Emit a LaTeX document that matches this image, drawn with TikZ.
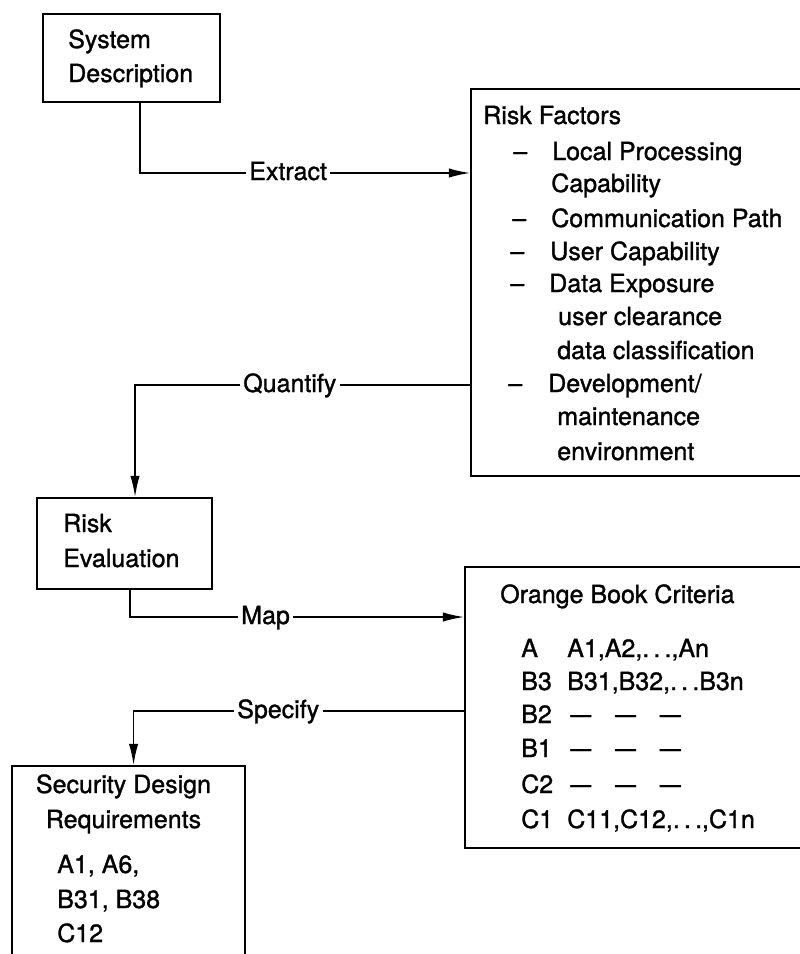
\documentclass[tikz,border=0pt]{standalone}
\usepackage{fontspec}
\setmainfont{TeX Gyre Heros}
\newfontfamily\scanfont{TeX Gyre Heros}[FakeBold=1.2]
\usetikzlibrary{arrows.meta,fit}
\newcommand{\longdash}{\scalebox{1.5}[1]{\textendash}}

\begin{document}
\begin{tikzpicture}[x=0.75pt,y=0.75pt,yscale=-1,xscale=1,
    box/.style={draw, line width=1.2pt, inner sep=0pt},
    txt/.style={anchor=base west, inner sep=0pt, font=\scanfont\fontsize{18.75}{22}\selectfont},
    verb/.style={anchor=west, inner xsep=2.25pt, inner ysep=0pt, text height=13.5pt, text depth=3pt, font=\scanfont\fontsize{18.75}{22}\selectfont},
    link/.style={line width=1.2pt},
    feed/.style={line width=1.2pt, -{Latex[length=16pt,width=7pt]}}]
        \useasboundingbox (0,0) rectangle (800,954);
        
        %Shape: Rectangle [System Description]
        \node[box, fit={(43,14) (220,102)}] (sysdesc) {};
        %Shape: Rectangle [Risk Factors]
        \node[box, fit={(471,89) (830,476)}] (riskfac) {};
        %Shape: Rectangle [Risk Evaluation]
        \node[box, fit={(37,498) (212,589)}] (riskeval) {};
        %Shape: Rectangle [Orange Book Criteria]
        \node[box, fit={(465,567) (830,848)}] (orange) {};
        %Shape: Rectangle [Security Design Requirements]
        \node[box, fit={(12,766) (245,980)}] (secreq) {};
        
        % Text Node
        \node[txt] (sys1) at (68,48) {System};
        % Text Node
        \node[txt] (sys2) at (68,82) {Description};
        
        % Text Node
        \node[txt] (rftitle) at (483,124) {Risk Factors};
        % Text Node
        \node[txt] (rfd1) at (513,160) {\textendash};
        \node[txt] (rf1) at (552,160) {Local Processing};
        % Text Node
        \node[txt] (rf1b) at (551,192) {Capability};
        % Text Node
        \node[txt] (rfd2) at (512,227) {\textendash};
        \node[txt] (rf2) at (551,227) {Communication Path};
        % Text Node
        \node[txt] (rfd3) at (510,260) {\textendash};
        \node[txt] (rf3) at (550,260) {User Capability};
        % Text Node
        \node[txt] (rfd4) at (510,292) {\textendash};
        \node[txt] (rf4) at (549,292) {Data Exposure};
        % Text Node
        \node[txt] (rf4b) at (558,325) {user clearance};
        % Text Node
        \node[txt] (rf4c) at (557,359) {data classification};
        % Text Node
        \node[txt] (rfd5) at (508,392) {\textendash};
        \node[txt] (rf5) at (548,392) {Development/};
        % Text Node
        \node[txt] (rf5b) at (557,425) {maintenance};
        % Text Node
        \node[txt] (rf5c) at (557,460) {environment};
        
        % Text Node
        \node[txt] (eval1) at (63,532) {Risk};
        % Text Node
        \node[txt] (eval2) at (63,567) {Evaluation};
        
        % Text Node
        \node[txt] (obtitle) at (500,603) {Orange Book Criteria};
        % Text Node
        \node[txt] (obA) at (521,657) {A};
        \node[txt] (obAx) at (567,657) {A1,A2,.\,.\,.,An};
        % Text Node
        \node[txt] (obBiii) at (521,690) {B3};
        \node[txt] (obBiiix) at (567,690) {B31,B32,.\,.\,.B3n};
        % Text Node
        \node[txt] (obBii) at (521,723) {B2};
        \node[txt] (obBiix) at (570,723) {\longdash\hspace{18pt}\longdash\hspace{18pt}\longdash};
        % Text Node
        \node[txt] (obBi) at (521,757) {B1};
        \node[txt] (obBix) at (570,757) {\longdash\hspace{18pt}\longdash\hspace{18pt}\longdash};
        % Text Node
        \node[txt] (obCii) at (521,793) {C2};
        \node[txt] (obCiix) at (570,793) {\longdash\hspace{18pt}\longdash\hspace{18pt}\longdash};
        % Text Node
        \node[txt] (obCi) at (521,828) {C1};
        \node[txt] (obCix) at (567,828) {C11,C12,.\,.\,.,C1n};
        
        % Text Node
        \node[txt, anchor=base] (sec1) at (123.5,793) {Security Design};
        % Text Node
        \node[txt, anchor=base] (sec2) at (123.5,828) {Requirements};
        % Text Node
        \node[txt] (sec3) at (57,873) {A1, A6,};
        % Text Node
        \node[txt] (sec4) at (57,908) {B31, B38};
        % Text Node
        \node[txt] (sec5) at (57,942) {C12};
        
        % Connector labels
        \node[verb] (extract) at (246,173) {Extract};
        \node[verb] (quantify) at (240,385) {Quantify};
        \node[verb] (map) at (238,617) {Map};
        \node[verb] (specify) at (234,711) {Specify};
        
        %Straight Lines [Extract]
        \draw[link] (extract.west) -| ([xshift=6.4pt]sysdesc.south);
        \draw[feed] (extract.east) -- (extract.east -| riskfac.west);
        %Straight Lines [Quantify]
        \draw[link] (quantify.east) -- (quantify.east -| riskfac.west);
        \draw[feed] (quantify.west) -| ([xshift=7.9pt]riskeval.north);
        %Straight Lines [Map]
        \draw[link] (map.west) -| ([xshift=4.1pt]riskeval.south);
        \draw[feed] (map.east) -- (map.east -| orange.west);
        %Straight Lines [Specify]
        \draw[link] (specify.east) -- (specify.east -| orange.west);
        \draw[feed] (specify.west) -| ([xshift=3.8pt]secreq.north);
    \end{tikzpicture}
\end{document}
